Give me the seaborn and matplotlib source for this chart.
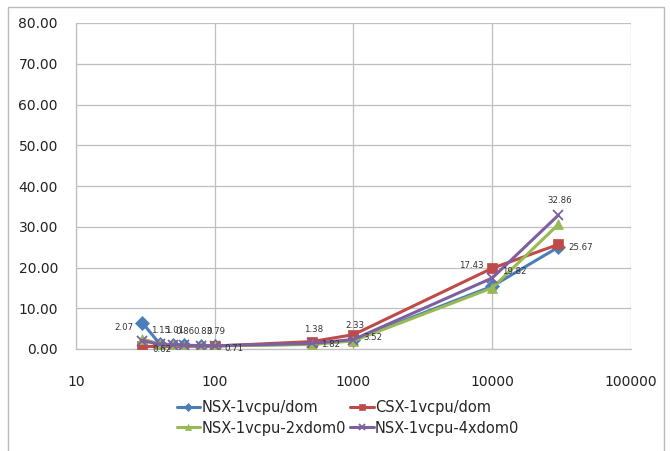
import matplotlib
matplotlib.use("Agg")
import matplotlib.pyplot as plt
from matplotlib.patches import Rectangle
import pandas as pd
import seaborn as sns

# x values (log scale)
x_full = [30, 40, 50, 60, 80, 100, 500, 1000, 10000, 30000]
x_csx = [30, 100, 500, 1000, 10000, 30000]

nsx_dom = [6.50, 1.30, 1.00, 0.90, 0.85, 0.80, 1.20, 2.20, 15.40, 25.00]
csx_dom = [0.62, 0.71, 1.82, 3.52, 19.82, 25.67]
nsx_2xdom0 = [2.50, 1.20, 0.90, 0.80, 0.80, 0.75, 1.10, 2.00, 15.00, 30.60]
nsx_4xdom0 = [2.07, 1.15, 1.01, 0.86, 0.83, 0.79, 1.38, 2.33, 17.43, 32.86]

names = ["NSX-1vcpu/dom", "CSX-1vcpu/dom", "NSX-1vcpu-2xdom0", "NSX-1vcpu-4xdom0"]
colors = ["#4A7EBB", "#BE4B48", "#98B954", "#7D60A0"]
markers = ["D", "s", "^", "x"]

sns.set_style("white")
plt.rcParams['font.family'] = ['DejaVu Sans']

fig = plt.figure(figsize=(6.7, 4.51), dpi=100)
ax = fig.add_axes([76 / 670, 1 - 349 / 451, (631 - 76) / 670, (349 - 23) / 451])

series = [(x_full, nsx_dom), (x_csx, csx_dom), (x_full, nsx_2xdom0), (x_full, nsx_4xdom0)]
for (xs, ys), name, c, m in zip(series, names, colors, markers):
    df = pd.DataFrame({"x": xs, "y": ys})
    sns.lineplot(data=df, x="x", y="y", ax=ax, color=c, marker=m, markersize=7,
                 markeredgecolor=c, markeredgewidth=1.3 if m == "x" else 0.5,
                 linewidth=2.2, label=name, zorder=3)

# data labels
for xv, yv in zip(x_csx, csx_dom):
    ax.annotate(f"{yv:.2f}", (xv, yv), xytext=(7, -2), textcoords="offset points",
                fontsize=6.2, color="#333333", ha="left", va="center")
for i, (xv, yv) in enumerate(zip(x_full, nsx_4xdom0)):
    if i in (0, 8):
        ax.annotate(f"{yv:.2f}", (xv, yv), xytext=(-6, 6), textcoords="offset points",
                    fontsize=6.2, color="#333333", ha="right", va="bottom")
    else:
        ax.annotate(f"{yv:.2f}", (xv, yv), xytext=(1, 7), textcoords="offset points",
                    fontsize=6.2, color="#333333", ha="center", va="bottom")

ax.set_xscale("log")
ax.set_xlim(10, 100000)
ax.set_ylim(0, 80)
ax.set_yticks(range(0, 81, 10))
ax.set_yticklabels([f"{v:.2f}" for v in range(0, 81, 10)])
ax.set_xticks([10, 100, 1000, 10000, 100000])
ax.set_xticklabels(["10", "100", "1000", "10000", "100000"])
ax.minorticks_off()
ax.set_xlabel("")
ax.set_ylabel("")
ax.grid(True, color="#BFBFBF", linewidth=0.9)
ax.set_axisbelow(True)
for side in ["top", "right"]:
    ax.spines[side].set_visible(False)
for side in ["left", "bottom"]:
    ax.spines[side].set_color("#BFBFBF")
    ax.spines[side].set_linewidth(0.9)
ax.tick_params(axis="both", which="major", length=5, width=0.9, color="#BFBFBF",
               labelsize=10, labelcolor="#222222", direction="out")
ax.tick_params(axis="x", pad=14)
ax.tick_params(axis="y", pad=8)

handles, labels = ax.get_legend_handles_labels()
ax.get_legend().remove()
order = [0, 2, 1, 3]
fig.legend([handles[i] for i in order], [labels[i] for i in order], loc="center",
           bbox_to_anchor=(348 / 670, 1 - 418 / 451),
           ncol=2, frameon=False, fontsize=10.5, handlelength=1.6, handletextpad=0.1,
           columnspacing=0.3, labelspacing=0.35, markerscale=0.6)

fig.patches.append(Rectangle((8 / 670, -0.05), (664 - 8) / 670, 1 - 7 / 451 + 0.05,
                             transform=fig.transFigure, fill=False,
                             edgecolor="#BBBBBB", linewidth=1.0))

fig.savefig("out.png", dpi=100)
